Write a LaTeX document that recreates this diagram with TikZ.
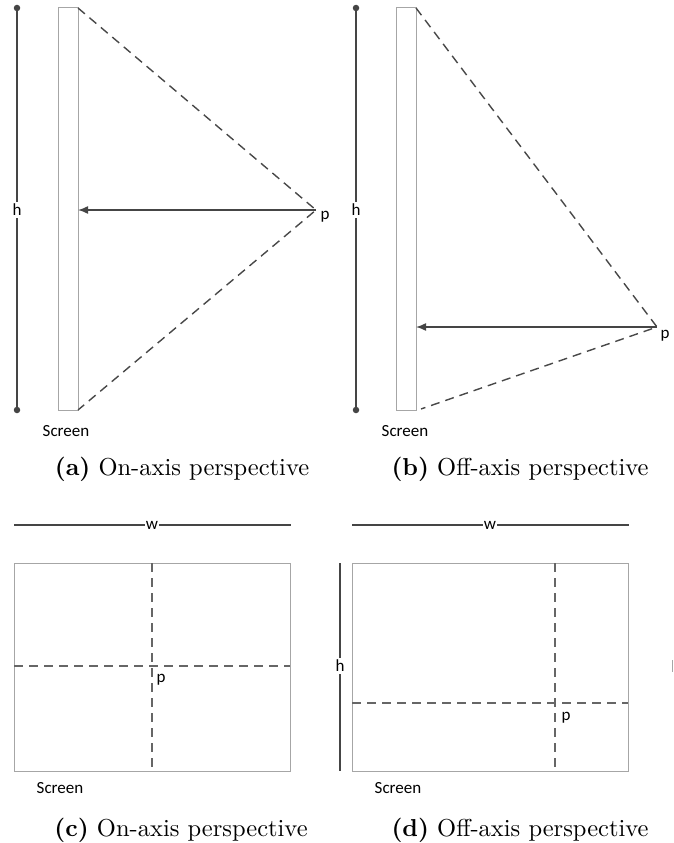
\documentclass[tikz,border=0pt]{standalone}
\usepackage{fontspec}
\newfontfamily\lblfont{Carlito}
\newfontfamily\capfont{lmroman10-regular.otf}[BoldFont=lmroman10-bold.otf]
\usetikzlibrary{arrows.meta}
\definecolor{dark}{HTML}{454545}
\definecolor{scr}{HTML}{A6A6A6}
\definecolor{dsh}{HTML}{484848}
\definecolor{dshb}{HTML}{666666}
\tikzset{
  dimline/.style={draw=dark, line width=1.6pt},
  enddot/.style={circle, fill=dark, inner sep=0pt, minimum size=6.5pt},
  screenbox/.style={draw=scr, line width=1pt},
  sight/.style={draw=dsh, line width=1.4pt, dash pattern=on 9pt off 6pt},
  cross/.style={draw=dshb, line width=1.4pt, dash pattern=on 9pt off 6pt},
  ray/.style={draw=dark, line width=1.5pt, -{Latex[length=10pt,width=8pt]}},
  lbl/.style={font=\lblfont\fontsize{17}{18}\selectfont, inner sep=1pt},
  gaplbl/.style={lbl, fill=white, inner sep=2pt},
  captext/.style={font=\capfont\fontsize{24.5}{30}\selectfont, inner sep=0pt},
  wline/.style={draw=dark, line width=1.2pt}
}
\begin{document}
\begin{tikzpicture}[x=1pt,y=-1pt]
\useasboundingbox (0,0) rectangle (674,843);
% ---------- (a) ----------
\node[enddot] (aht) at (17,8) {};
\node[enddot] (ahb) at (17,410) {};
\draw[dimline] (aht.center) -- (ahb.center);
\node[gaplbl] (ah) at (17,210) {h};
\coordinate (as1) at (58,8);
\coordinate (as2) at (78,410);
\draw[screenbox] (as1) rectangle (as2);
\coordinate (atr) at (78,8);
\coordinate (abr) at (78,410);
\coordinate (ap) at (316,210);
\coordinate (amid) at (78,210);
\draw[sight] (atr) -- (ap) -- (abr);
\draw[ray] (ap) -- (amid);
\node[lbl] (apl) at (325,217) {p};
\node[lbl] (ascr) at (66,431) {Screen};
\node[captext] (acap) at (182,469) {\textbf{(a)} On-axis perspective};
% ---------- (b) ----------
\node[enddot] (bht) at (356,8) {};
\node[enddot] (bhb) at (356,410) {};
\draw[dimline] (bht.center) -- (bhb.center);
\node[gaplbl] (bh) at (356,210) {h};
\coordinate (bs1) at (396,8);
\coordinate (bs2) at (416,410);
\draw[screenbox] (bs1) rectangle (bs2);
\coordinate (btr) at (416,8);
\coordinate (bbr) at (421,409);
\coordinate (bp) at (657,327);
\coordinate (bmid) at (416,327);
\draw[sight] (btr) -- (bp) -- (bbr);
\draw[ray] (bp) -- (bmid);
\node[lbl] (bpl) at (665,336) {p};
\node[lbl] (bscr) at (405,431) {Screen};
\node[captext] (bcap) at (520,469) {\textbf{(b)} Off-axis perspective};
% ---------- (c) ----------
\coordinate (cw1) at (14,525);
\coordinate (cw2) at (291,525);
\draw[wline] (cw1) -- (cw2);
\node[gaplbl, inner sep=1pt] (cw) at (152,525) {w};
\coordinate (cr1) at (14,563);
\coordinate (cr2) at (290,771);
\draw[screenbox] (cr1) rectangle (cr2);
\coordinate (cvt) at (152,563);
\coordinate (cvb) at (152,771);
\coordinate (chl) at (14,666);
\coordinate (chr) at (290,666);
\draw[cross] (cvt) -- (cvb);
\draw[cross] (chl) -- (chr);
\node[lbl] (cpl) at (161,680) {p};
\node[lbl] (cscr) at (60,788) {Screen};
\node[captext] (ccap) at (181,830) {\textbf{(c)} On-axis perspective};
% ---------- (d) ----------
\coordinate (dw1) at (352,525);
\coordinate (dw2) at (629,525);
\draw[wline] (dw1) -- (dw2);
\node[gaplbl, inner sep=1pt] (dw) at (490,525) {w};
\coordinate (dh1) at (340,563);
\coordinate (dh2) at (340,771);
\draw[wline] (dh1) -- (dh2);
\node[gaplbl] (dh) at (340,666) {h};
\coordinate (dr1) at (352,563);
\coordinate (dr2) at (628,771);
\draw[screenbox] (dr1) rectangle (dr2);
\coordinate (dvt) at (555,563);
\coordinate (dvb) at (555,771);
\coordinate (dhl) at (352,703);
\coordinate (dhr) at (628,703);
\draw[cross] (dvt) -- (dvb);
\draw[cross] (dhl) -- (dhr);
\node[lbl] (dpl) at (566,718) {p};
\node[lbl] (dscr) at (398,788) {Screen};
\node[captext] (dcap) at (520,830) {\textbf{(d)} Off-axis perspective};
\coordinate (tk1) at (672,660);
\coordinate (tk2) at (672,672);
\draw[draw=scr, line width=1pt] (tk1) -- (tk2);
\end{tikzpicture}
\end{document}
